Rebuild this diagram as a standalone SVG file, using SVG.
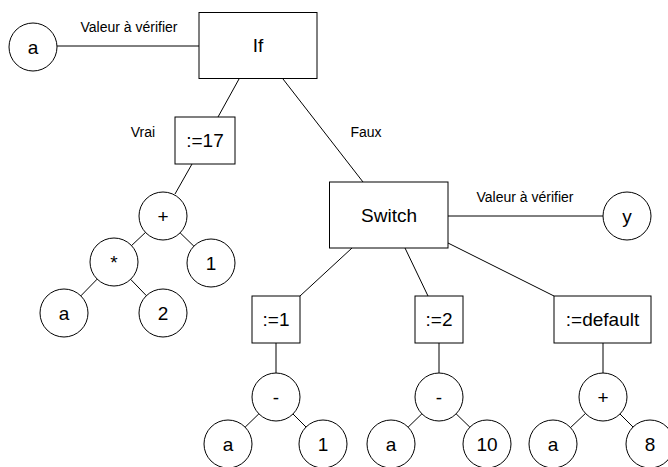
<svg xmlns="http://www.w3.org/2000/svg" width="668" height="467" viewBox="0 0 668 467">
<style>
.n{fill:#fff;stroke:#000;stroke-width:1}
.t{font-family:"Liberation Sans",Arial,sans-serif;font-size:19px;fill:#000;text-anchor:middle}
.s{font-size:14px}
.e line{stroke:#000;stroke-width:1}
</style>
<rect width="668" height="467" fill="#fff"/>
<g class="e" id="connectors">
<line x1="57" y1="46" x2="199" y2="46"/>
<line x1="239" y1="79" x2="218" y2="117"/>
<line x1="283" y1="79" x2="363" y2="182"/>
<line x1="448" y1="216" x2="603" y2="216"/>
<line x1="192" y1="164" x2="175" y2="194"/>
<line x1="145.5" y1="232.4" x2="131.5" y2="245.6"/>
<line x1="180.1" y1="232.8" x2="193.9" y2="246.2"/>
<line x1="97.2" y1="279.1" x2="80.8" y2="295.9"/>
<line x1="130.6" y1="279.3" x2="146.4" y2="295.7"/>
<line x1="352" y1="248" x2="300" y2="296"/>
<line x1="405" y1="248" x2="428" y2="296"/>
<line x1="448" y1="243" x2="554" y2="296"/>
<line x1="276" y1="343" x2="276" y2="373"/>
<line x1="439" y1="343" x2="439" y2="373"/>
<line x1="603" y1="343" x2="603" y2="373"/>
<line x1="258.9" y1="413.8" x2="245.1" y2="427.2"/>
<line x1="293" y1="414" x2="306" y2="427"/>
<line x1="421.9" y1="413.8" x2="408.1" y2="427.2"/>
<line x1="456.1" y1="413.8" x2="469.9" y2="427.2"/>
<line x1="585.5" y1="413.4" x2="570.5" y2="427.6"/>
<line x1="620" y1="414" x2="633" y2="427"/>
</g>
<g id="edge-labels">
<text class="t s" x="129" y="31.5">Valeur à vérifier</text>
<text class="t s" x="143" y="137">Vrai</text>
<text class="t s" x="366" y="137">Faux</text>
<text class="t s" x="525" y="201.5">Valeur à vérifier</text>
</g>
<g id="n-a-top"><circle class="n" cx="33" cy="47" r="24"/><text class="t" x="33" y="54">a</text></g>
<g id="n-if"><rect class="n" x="199" y="12.5" width="118" height="66"/><text class="t" x="258" y="52">If</text></g>
<g id="n-assign17"><rect class="n" x="175" y="117" width="60" height="47"/><text class="t" x="205" y="147">:=17</text></g>
<g id="n-plus1"><circle class="n" cx="163" cy="216" r="24"/><text class="t" x="163" y="223">+</text></g>
<g id="n-mul"><circle class="n" cx="114" cy="262" r="24"/><text class="t" x="114" y="269">*</text></g>
<g id="n-one1"><circle class="n" cx="211" cy="263" r="24"/><text class="t" x="211" y="270">1</text></g>
<g id="n-a1"><circle class="n" cx="64" cy="313" r="24"/><text class="t" x="64" y="320">a</text></g>
<g id="n-two"><circle class="n" cx="163" cy="313" r="24"/><text class="t" x="163" y="320">2</text></g>
<g id="n-switch"><rect class="n" x="329.5" y="182" width="118.5" height="66"/><text class="t" x="389" y="222">Switch</text></g>
<g id="n-y"><circle class="n" cx="627" cy="216" r="24"/><text class="t" x="627" y="223">y</text></g>
<g id="n-case1"><rect class="n" x="252" y="296" width="48" height="47"/><text class="t" x="276" y="326">:=1</text></g>
<g id="n-case2"><rect class="n" x="415" y="296" width="48" height="47"/><text class="t" x="439" y="326">:=2</text></g>
<g id="n-default"><rect class="n" x="554" y="296" width="97" height="47"/><text class="t" x="602.5" y="326">:=default</text></g>
<g id="n-minus1"><circle class="n" cx="276" cy="397" r="24"/><text class="t" x="276" y="404">-</text></g>
<g id="n-minus2"><circle class="n" cx="439" cy="397" r="24"/><text class="t" x="439" y="404">-</text></g>
<g id="n-plus2"><circle class="n" cx="603" cy="397" r="24"/><text class="t" x="603" y="404">+</text></g>
<g id="n-a2"><circle class="n" cx="228" cy="444" r="24"/><text class="t" x="228" y="451">a</text></g>
<g id="n-one2"><circle class="n" cx="323" cy="444" r="24"/><text class="t" x="323" y="451">1</text></g>
<g id="n-a3"><circle class="n" cx="391" cy="444" r="24"/><text class="t" x="391" y="451">a</text></g>
<g id="n-ten"><circle class="n" cx="487" cy="444" r="24"/><text class="t" x="487" y="451">10</text></g>
<g id="n-a4"><circle class="n" cx="553" cy="444" r="24"/><text class="t" x="553" y="451">a</text></g>
<g id="n-eight"><circle class="n" cx="650" cy="444" r="24"/><text class="t" x="650" y="451">8</text></g>
</svg>
